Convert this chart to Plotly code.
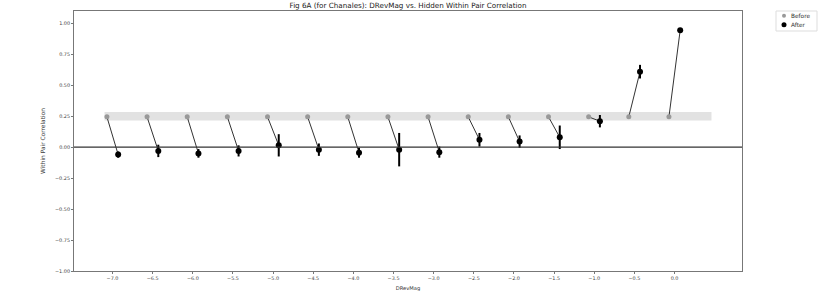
import plotly.graph_objects as go

# ---- data ----
drevmag_bins = [-7.0, -6.5, -6.0, -5.5, -5.0, -4.5, -4.0, -3.5, -3.0, -2.5, -2.0, -1.5, -1.0, -0.5, 0.0]
before_corr = [0.245, 0.245, 0.245, 0.245, 0.245, 0.245, 0.245, 0.245, 0.245, 0.245, 0.245, 0.245, 0.245, 0.245, 0.245]
after_corr = [-0.06, -0.03, -0.05, -0.03, 0.015, -0.02, -0.045, -0.02, -0.04, 0.06, 0.045, 0.08, 0.21, 0.61, 0.945]
after_err = [0.025, 0.05, 0.035, 0.045, 0.09, 0.05, 0.04, 0.135, 0.045, 0.055, 0.05, 0.095, 0.05, 0.055, 0.015]
band_x = [-7.1, 0.46]
band_lo = 0.215
band_hi = 0.285
y_ticks = [-1.0, -0.75, -0.5, -0.25, 0.0, 0.25, 0.5, 0.75, 1.0]
series_names = ["Before", "After"]
series_colors = ["#999999", "#000000"]

offset = 0.07
x_before = [b - offset for b in drevmag_bins]
x_after = [b + offset for b in drevmag_bins]

font = "DejaVu Sans"
W, H = 828, 305
ML, MR, MT, MB = 74, 86, 11, 34
PW, PH = W - ML - MR, H - MT - MB


def px_x(p):
    return (p - ML) / PW


def px_y(p):
    return (H - MB - p) / PH


fig = go.Figure()

# shaded band
fig.add_trace(go.Scatter(
    x=[band_x[0], band_x[1], band_x[1], band_x[0], band_x[0]],
    y=[band_lo, band_lo, band_hi, band_hi, band_lo],
    fill="toself", fillcolor="#e2e2e2", line=dict(width=0),
    mode="lines", hoverinfo="skip", showlegend=False))

# connecting lines
lx, ly = [], []
for xb, yb, xa, ya in zip(x_before, before_corr, x_after, after_corr):
    lx += [xb, xa, None]
    ly += [yb, ya, None]
fig.add_trace(go.Scatter(x=lx, y=ly, mode="lines",
                         line=dict(color="#333333", width=1),
                         hoverinfo="skip", showlegend=False))

fig.add_trace(go.Scatter(x=x_before, y=before_corr, mode="markers", name=series_names[0],
                         marker=dict(color=series_colors[0], size=5), showlegend=False))
fig.add_trace(go.Scatter(x=x_after, y=after_corr, mode="markers", name=series_names[1],
                         marker=dict(color=series_colors[1], size=6), showlegend=False,
                         error_y=dict(type="data", array=after_err, color="#000000",
                                      thickness=2, width=0)))

fig.add_shape(type="line", xref="paper", x0=0, x1=1, yref="y", y0=0, y1=0,
              line=dict(color="#333333", width=1.3), layer="above")

# legend box (matplotlib-style, outside right)
fig.add_shape(type="rect", xref="paper", yref="paper",
              x0=px_x(776), x1=px_x(817), y0=px_y(31), y1=px_y(11),
              line=dict(color="#dddddd", width=1), fillcolor="white")
leg_rows = [15.7, 24.7]
leg_sizes = [4, 5]
for name, color, row, sz in zip(series_names, series_colors, leg_rows, leg_sizes):
    fig.add_shape(type="circle", xref="paper", yref="paper",
                  x0=px_x(784 - sz / 2), x1=px_x(784 + sz / 2),
                  y0=px_y(row + sz / 2), y1=px_y(row - sz / 2),
                  line=dict(width=0), fillcolor=color)
    fig.add_annotation(text=name, xref="paper", yref="paper",
                       x=px_x(789), y=px_y(row), xanchor="left", yanchor="middle",
                       showarrow=False, font=dict(size=5.8, color="#333333"))

fig.update_layout(
    width=W, height=H,
    margin=dict(l=ML, r=MR, t=MT, b=MB, autoexpand=False),
    paper_bgcolor="white", plot_bgcolor="white",
    font=dict(family=font, color="#333333"),
    showlegend=False,
    title=dict(text="Fig 6A (for Chanales): DRevMag vs. Hidden Within Pair Correlation",
               x=0.5, xref="paper", xanchor="center",
               y=1 - 5 / 305, yref="container", yanchor="middle",
               font=dict(size=7.2, color="#222222")),
    xaxis=dict(range=[-7.48, 0.84], tickvals=drevmag_bins, tickformat=".1f",
               automargin=False,
               showgrid=False, zeroline=False, showline=True, mirror=True,
               linecolor="#777777", linewidth=1,
               ticks="outside", ticklen=2, tickcolor="#777777",
               tickfont=dict(size=4.9, color="#444444"),
               title=dict(text="DRevMag", font=dict(size=5.2, color="#333333"), standoff=6)),
    yaxis=dict(range=[-1.0, 1.1], tickvals=y_ticks, tickformat=".2f",
               automargin=False,
               showgrid=False, zeroline=False, showline=True, mirror=True,
               linecolor="#777777", linewidth=1,
               ticks="outside", ticklen=2, tickcolor="#777777",
               tickfont=dict(size=4.9, color="#444444"),
               title=dict(text="Within Pair Correlation", font=dict(size=5.9, color="#333333"), standoff=8)),
)

fig.write_html("out.html", config={"displayModeBar": False},
               post_script="document.body.style.margin='0';document.body.style.padding='0';")
